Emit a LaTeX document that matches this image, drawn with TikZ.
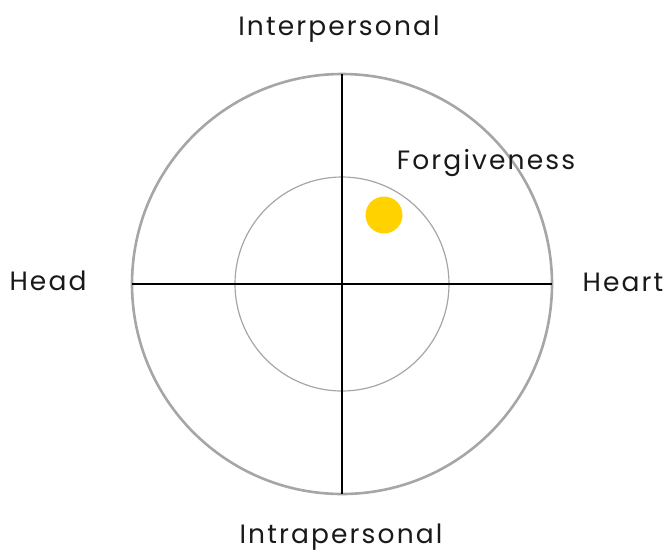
\documentclass[tikz,border=0pt]{standalone}
\usepackage{fontspec}
\setmainfont[LetterSpace=8]{Poppins}
\usetikzlibrary{positioning}
\definecolor{ringgray}{HTML}{A6A6A6}
\definecolor{dotyellow}{HTML}{FFD200}

\begin{document}
\begin{tikzpicture}[x=1pt, y=-1pt, font=\fontsize{26.5}{30}\selectfont]
  \tikzset{ring/.style={draw=ringgray}, axis/.style={draw=black, line width=1.6pt}, lbl/.style={text=black!90, inner sep=0pt}}
  \useasboundingbox (0,0) rectangle (666,555);
  % ---- rings ----
  \coordinate (c) at (342,284);
  \draw[ring, line width=2.6pt] (c) circle[radius=210];
  \draw[ring, line width=1.2pt] (c) circle[radius=107];
  % ---- axes ----
  \coordinate (top) at (342,74);
  \coordinate (bot) at (342,494);
  \coordinate (lft) at (132,284);
  \coordinate (rgt) at (552,284);
  \draw[axis] (top) -- (bot);
  \draw[axis] (lft) -- (rgt);
  % ---- labels ----
  \node[lbl] (inter) at (339,29) {Interpersonal};
  \node[lbl] (intra) at (341,537) {Intrapersonal};
  \node[lbl] (head) at (48,281) {Head};
  \node[lbl] (heart) at (623,282) {Heart};
  \node[lbl] (forg) at (486,163) {Forgiveness};
  % ---- marker ----
  \fill[dotyellow] (384,215) circle[radius=18.5];
\end{tikzpicture}
\end{document}
